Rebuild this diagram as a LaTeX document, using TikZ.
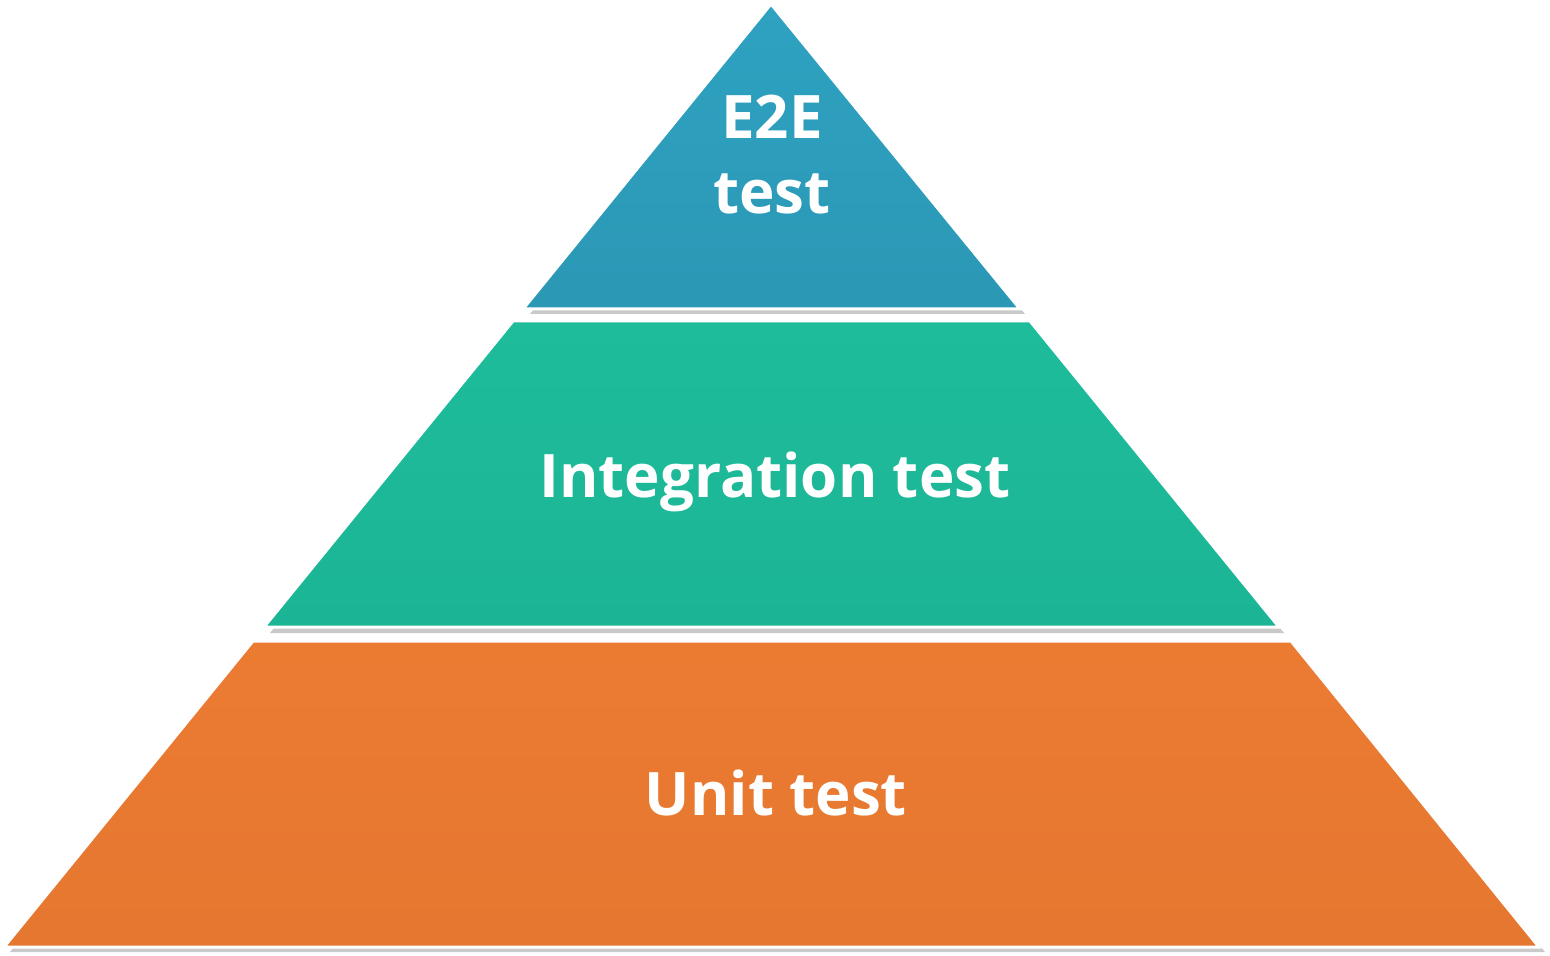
\documentclass[tikz,border=0pt]{standalone}
\usepackage{fontspec}
\setmainfont{Open Sans}
\definecolor{blueA}{HTML}{2EA2C1}
\definecolor{blueB}{HTML}{2B98B5}
\definecolor{greenA}{HTML}{1EBC9B}
\definecolor{greenB}{HTML}{1BB595}
\definecolor{orangeA}{HTML}{EC7B32}
\definecolor{orangeB}{HTML}{E57730}
\definecolor{shadowgray}{HTML}{C9C9C9}
\tikzset{
  layer/.style={draw=white, line width=1.5pt, line join=miter},
  shadowfill/.style={fill=shadowgray, draw=none},
  lbl/.style={text=white, font=\fontsize{30}{37.5}\selectfont\bfseries, align=center, inner sep=0pt}
}
\begin{document}
\begin{tikzpicture}[x=0.5pt,y=-0.5pt]
\useasboundingbox (0,0) rectangle (1550,956);
% shadows
\fill[shadowfill] (776,10) -- (1025,314) -- (530,314) -- cycle;
\fill[shadowfill] (518,327) -- (1035,327) -- (1284,633) -- (270,633) -- cycle;
\fill[shadowfill] (258,647) -- (1296,647) -- (1545,952) -- (10,952) -- cycle;
% layers
\shade[layer, top color=blueA, bottom color=blueB] (771,4) -- (1020,309) -- (523,309) -- cycle;
\shade[layer, top color=greenA, bottom color=greenB] (513,321) -- (1030,321) -- (1279,627) -- (264,627) -- cycle;
\shade[layer, top color=orangeA, bottom color=orangeB] (253,641) -- (1291,641) -- (1539,947) -- (4,947) -- cycle;
% labels
\node[lbl, anchor=base] (e2e) at (772,214) {E2E\\test};
\node[lbl, anchor=base] (integ) at (775,497) {Integration test};
\node[lbl, anchor=base] (unit) at (776,815) {Unit test};
\end{tikzpicture}
\end{document}
